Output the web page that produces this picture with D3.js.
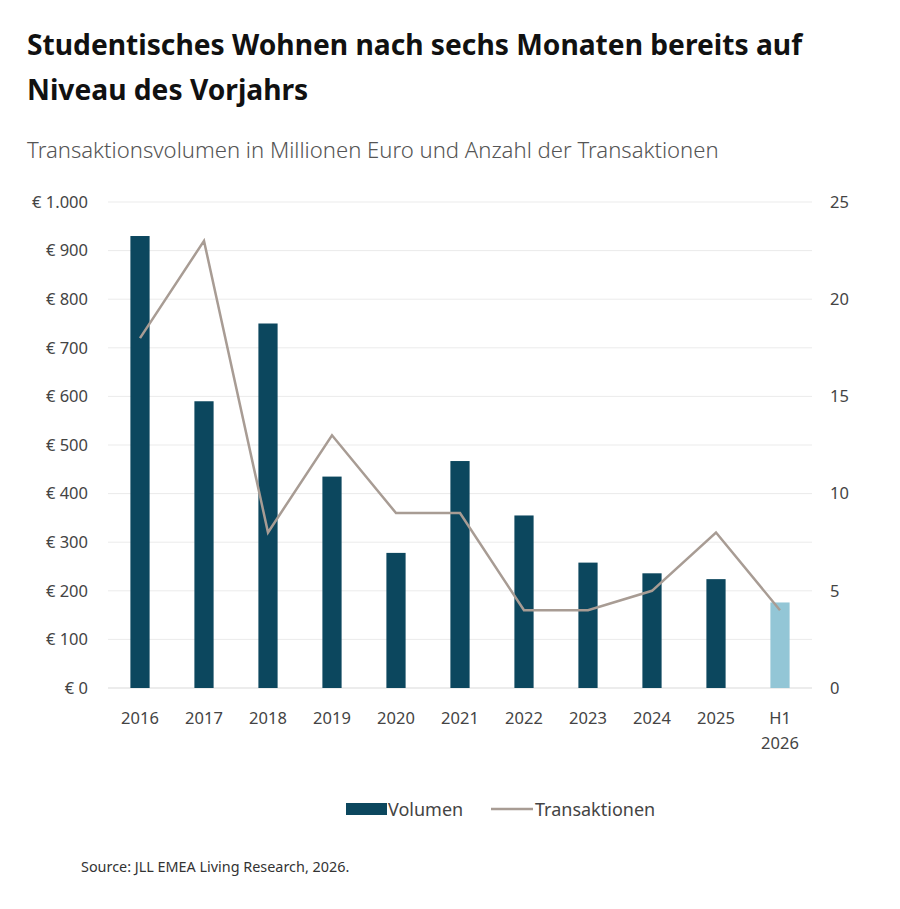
<!DOCTYPE html>
<html>
<head>
<meta charset="utf-8">
<script src="https://cdn.jsdelivr.net/npm/d3@7"></script>
<style>
  body { margin: 0; background: #fff; }
  svg { display: block; font-family: "Noto Sans", "Open Sans", sans-serif; }
</style>
</head>
<body>
<div id="chart"></div>
<script>
// Studentisches Wohnen - Transaktionsvolumen und Anzahl

const categories = ["2016", "2017", "2018", "2019", "2020", "2021", "2022", "2023", "2024", "2025", "H1 2026"];
const volumen = [930, 590, 750, 435, 278, 467, 355, 258, 236, 224, 176];
const transaktionen = [18, 23, 8, 13, 9, 9, 4, 4, 5, 8, 4];
const leftTicks = [0, 100, 200, 300, 400, 500, 600, 700, 800, 900, 1000];
const rightTicks = [0, 5, 10, 15, 20, 25];

const width = 900, height = 909;
const margin = { top: 202, right: 88, bottom: 221, left: 108 };
const innerW = width - margin.left - margin.right;
const innerH = height - margin.top - margin.bottom;

const svg = d3.select("#chart").append("svg")
    .attr("width", width)
    .attr("height", height);

// title + subtitle
svg.append("text")
    .attr("x", 27).attr("y", 55)
    .style("font-size", "28.2px").style("font-weight", 700).style("fill", "#111")
    .text("Studentisches Wohnen nach sechs Monaten bereits auf");
svg.append("text")
    .attr("x", 27).attr("y", 100)
    .style("font-size", "28.2px").style("font-weight", 700).style("fill", "#111")
    .text("Niveau des Vorjahrs");
svg.append("text")
    .attr("x", 27).attr("y", 158)
    .style("font-size", "22.1px").style("font-weight", 300).style("fill", "#555")
    .text("Transaktionsvolumen in Millionen Euro und Anzahl der Transaktionen");

const g = svg.append("g").attr("transform", `translate(${margin.left},${margin.top})`);

const x = d3.scaleBand().domain(categories).range([0, innerW]).paddingInner(0.7).paddingOuter(0.35);
const yL = d3.scaleLinear().domain([0, 1000]).range([innerH, 0]);
const yR = d3.scaleLinear().domain([0, 25]).range([innerH, 0]);

// gridlines
g.append("g").selectAll("line")
    .data(leftTicks)
    .join("line")
    .attr("x1", 0).attr("x2", innerW)
    .attr("y1", d => yL(d)).attr("y2", d => yL(d))
    .attr("stroke", d => d === 0 ? "#d9d9d9" : "#ebebeb")
    .attr("stroke-width", 1);

// left axis
const fmt = d3.formatLocale({ decimal: ",", thousands: ".", grouping: [3], currency: ["€ ", ""] }).format("$,.0f");
const leftAxis = g.append("g")
    .call(d3.axisLeft(yL).tickValues(leftTicks).tickSize(0).tickPadding(20).tickFormat(fmt));
leftAxis.select(".domain").remove();
leftAxis.selectAll("text").style("font-size", "16.5px").style("fill", "#444").style("font-family", "'Noto Sans', sans-serif");

// right axis
const rightAxis = g.append("g")
    .attr("transform", `translate(${innerW},0)`)
    .call(d3.axisRight(yR).tickValues(rightTicks).tickSize(0).tickPadding(18));
rightAxis.select(".domain").remove();
rightAxis.selectAll("text").style("font-size", "16.5px").style("fill", "#444").style("font-family", "'Noto Sans', sans-serif");

// x labels (H1 2026 is on two lines)
const xLabels = g.append("g").selectAll("text")
    .data(categories)
    .join("text")
    .attr("x", d => x(d) + x.bandwidth() / 2)
    .attr("y", innerH + 36)
    .attr("text-anchor", "middle")
    .style("font-size", "16.5px").style("fill", "#444");
xLabels.each(function(d) {
    const parts = d.split(" ");
    const t = d3.select(this);
    parts.forEach((p, i) => {
        t.append("tspan")
            .attr("x", x(d) + x.bandwidth() / 2)
            .attr("dy", i === 0 ? 0 : 25)
            .text(p);
    });
});

// bars
g.append("g").selectAll("rect")
    .data(categories)
    .join("rect")
    .attr("x", d => x(d))
    .attr("width", x.bandwidth())
    .attr("y", (d, i) => yL(volumen[i]))
    .attr("height", (d, i) => innerH - yL(volumen[i]))
    .attr("fill", (d, i) => i === categories.length - 1 ? "#93c6d6" : "#0c475e");

// line
const line = d3.line()
    .x((d, i) => x(categories[i]) + x.bandwidth() / 2)
    .y(d => yR(d));
g.append("path")
    .datum(transaktionen)
    .attr("d", line)
    .attr("fill", "none")
    .attr("stroke", "#a89c94")
    .attr("stroke-width", 2.5);

// legend
const legend = svg.append("g").attr("transform", "translate(346,809)");
legend.append("rect").attr("x", 0).attr("y", -6).attr("width", 41).attr("height", 12).attr("fill", "#0c475e");
legend.append("text").attr("x", 42).attr("y", 6.5).style("font-size", "18px").style("fill", "#444").text("Volumen");
legend.append("line").attr("x1", 145).attr("x2", 187).attr("y1", 0).attr("y2", 0).attr("stroke", "#a89c94").attr("stroke-width", 2.5);
legend.append("text").attr("x", 189).attr("y", 6.5).style("font-size", "18px").style("fill", "#444").text("Transaktionen");

// source
svg.append("text")
    .attr("x", 81).attr("y", 872)
    .style("font-size", "14.4px").style("fill", "#333")
    .text("Source: JLL EMEA Living  Research, 2026.");
</script>
</body>
</html>
